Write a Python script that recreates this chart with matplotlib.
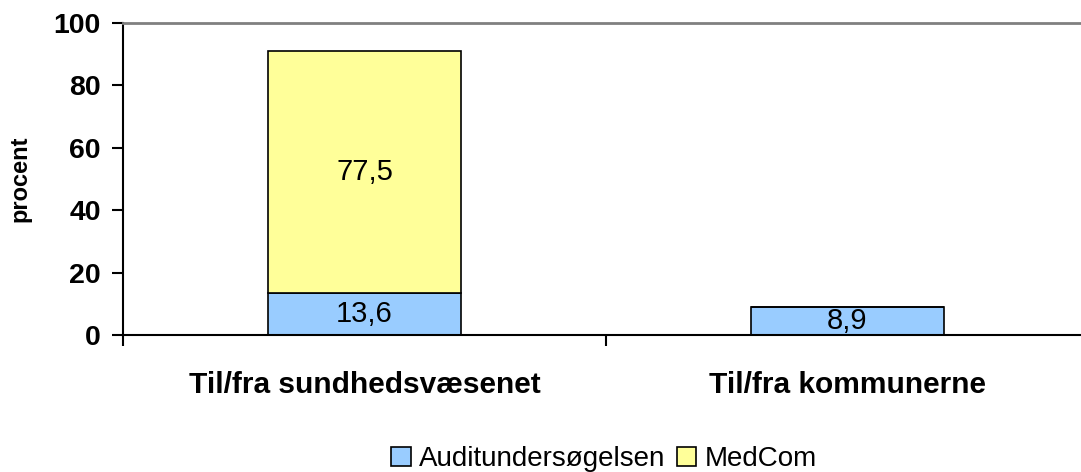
import matplotlib
matplotlib.use("Agg")
import matplotlib.pyplot as plt
import numpy as np

plt.rcParams['font.family'] = ['Liberation Sans', 'DejaVu Sans']

categories = ["Til/fra sundhedsvæsenet", "Til/fra kommunerne"]
audit = [13.6, 8.9]
medcom = [77.5, 0.0]
series_names = ["Auditundersøgelsen", "MedCom"]
colors = ["#99CCFF", "#FFFF99"]

fig = plt.figure(figsize=(10.81, 4.72), dpi=100)
# axes spans past the right edge like the original
ax = fig.add_axes([123/1081, 1 - 335/472, 966/1081, 312/472])

x = np.arange(len(categories))
ax.bar(x, audit, width=0.4, color=colors[0], edgecolor="black", linewidth=1.2, label=series_names[0])
ax.bar(x, medcom, width=0.4, bottom=audit, color=colors[1], edgecolor="black", linewidth=1.2, label=series_names[1])

for i in range(len(categories)):
    ax.text(x[i], audit[i] / 2, ("%.1f" % audit[i]).replace(".", ","), ha="center", va="center", fontsize=21)
    if medcom[i] > 0:
        ax.text(x[i], audit[i] + medcom[i] / 2, ("%.1f" % medcom[i]).replace(".", ","), ha="center", va="center", fontsize=21)

ax.set_xlim(-0.5, 1.5)
ax.set_ylim(0, 100)
ax.set_yticks(range(0, 101, 20))
ax.tick_params(axis="y", labelsize=20.5, width=1.5, length=8, direction="out", pad=8)
for lbl in ax.get_yticklabels():
    lbl.set_fontweight("bold")

ax.set_xticks([-0.5, 0.5, 1.5])
ax.set_xticklabels([])
ax.tick_params(axis="x", width=1.5, length=8, direction="out")
ax.set_xticks(x, minor=True)
ax.set_xticklabels(categories, minor=True, fontsize=21.5, fontweight="bold")
ax.tick_params(axis="x", which="minor", length=0, pad=26)

ax.set_ylabel("procent", fontsize=17, fontweight="bold", labelpad=16)

ax.spines["right"].set_visible(False)
ax.spines["top"].set_color("#808080")
ax.spines["top"].set_linewidth(2)
ax.spines["left"].set_linewidth(1.5)
ax.spines["bottom"].set_linewidth(1.5)

leg = fig.legend(loc="center", bbox_to_anchor=(604/1081, 1 - 459/472), ncol=2, frameon=False,
                 fontsize=20, handlelength=0.7, handleheight=0.7, handletextpad=0.3, columnspacing=0.4)

fig.savefig("out.png", dpi=100)
